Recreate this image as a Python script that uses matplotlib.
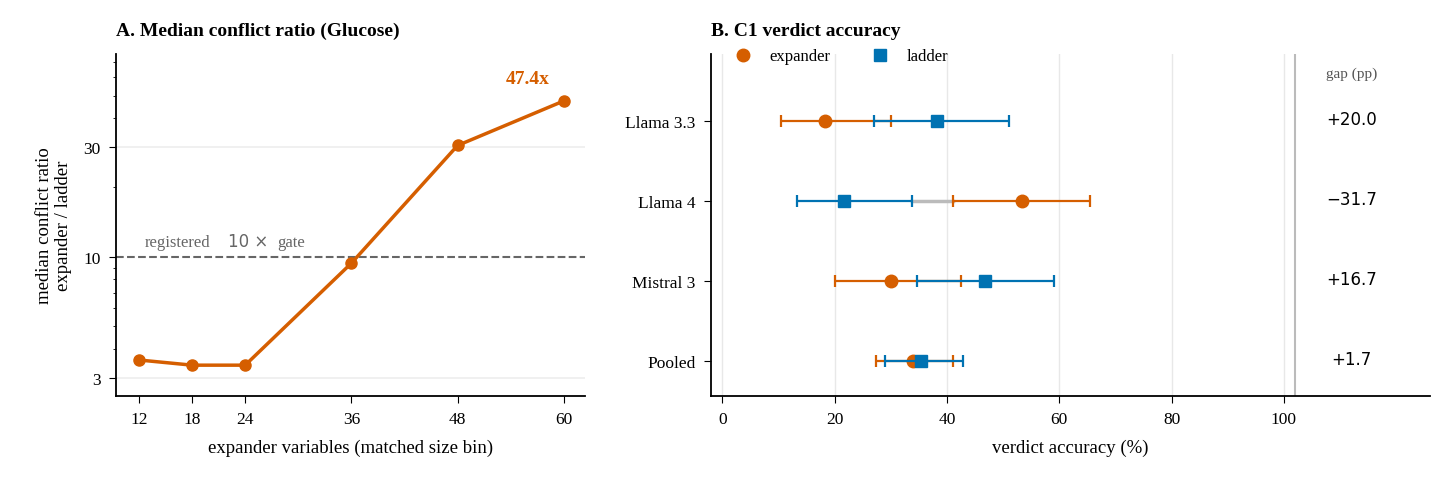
import matplotlib
matplotlib.use("Agg")
import matplotlib.pyplot as plt
from matplotlib.ticker import FixedLocator, NullFormatter, FixedFormatter

plt.rcParams['font.family'] = ['Liberation Serif', 'DejaVu Sans']
plt.rcParams['font.size'] = 12
plt.rcParams['xtick.labelsize'] = 12.5
plt.rcParams['ytick.labelsize'] = 12.5
plt.rcParams['xtick.major.size'] = 5
plt.rcParams['ytick.major.size'] = 5
plt.rcParams['xtick.major.pad'] = 6
plt.rcParams['ytick.major.pad'] = 6
plt.rcParams['axes.linewidth'] = 1.3

ORANGE = '#D55E00'
BLUE = '#0072B2'

sizes = [12, 18, 24, 36, 48, 60]
ratios = [3.58, 3.4, 3.4, 9.4, 30.4, 47.4]

models = ['Llama 3.3', 'Llama 4', 'Mistral 3', 'Pooled']
exp_acc = [18.3, 53.3, 30.0, 34.0]
exp_lo = [10.5, 41.0, 20.0, 27.4]
exp_hi = [30.0, 65.4, 42.5, 41.0]
lad_acc = [38.3, 21.7, 46.7, 35.4]
lad_lo = [27.0, 13.3, 34.6, 28.9]
lad_hi = [51.0, 33.7, 59.1, 42.9]
gaps = ['+20.0', '\u221231.7', '+16.7', '+1.7']

fig = plt.figure(figsize=(14.52, 4.89), dpi=100)
W, H = 1452, 489
axA = fig.add_axes([116/W, 1-397/H, (585-116)/W, (397-55)/H])
axB = fig.add_axes([711/W, 1-397/H, (1430-711)/W, (397-55)/H])

# Panel A
axA.set_yscale('log')
axA.set_ylim(2.5, 75.7)
axA.set_xlim(9.4, 62.4)
for v in [3, 30]:
    axA.axhline(v, color='#eeeeee', lw=1.2, zorder=0)
axA.axhline(10, color='#666666', ls='--', lw=1.5, zorder=1)
axA.text(12.6, 10.7, 'registered', color='#666666', fontsize=12, va='bottom')
axA.annotate('10 \u00d7', xy=(12.6, 10.7), xytext=(60, 0), textcoords='offset points',
             color='#666666', fontsize=12, va='bottom', family='DejaVu Sans')
axA.annotate('gate', xy=(12.6, 10.7), xytext=(96, 0), textcoords='offset points',
             color='#666666', fontsize=12, va='bottom')
axA.plot(sizes, ratios, color=ORANGE, lw=2.5, marker='o', ms=8, zorder=3)
axA.annotate(f'{ratios[-1]}x', xy=(sizes[-1], ratios[-1]), xytext=(-26, 10),
             textcoords='offset points', color=ORANGE, fontsize=14, fontweight='bold',
             ha='center', va='bottom')
axA.yaxis.set_major_locator(FixedLocator([3, 10, 30]))
axA.yaxis.set_major_formatter(FixedFormatter(['3', '10', '30']))
axA.yaxis.set_minor_formatter(NullFormatter())
axA.set_xticks(sizes)
axA.set_xlabel('expander variables (matched size bin)', fontsize=13.5, labelpad=8)
axA.set_ylabel('median conflict ratio\nexpander / ladder', fontsize=13.5, labelpad=8)
axA.set_title('A. Median conflict ratio (Glucose)', loc='left', fontweight='bold', fontsize=14, pad=14)
for s in ['top', 'right']:
    axA.spines[s].set_visible(False)

# Panel B
ys = [3, 2, 1, 0]
axB.set_xlim(-2, 126)
axB.set_ylim(-0.4375, 3.84)
for v in [0, 20, 40, 60, 80, 100]:
    axB.axvline(v, color='#e8e8e8', lw=1, zorder=0)
axB.axvline(102, color='#bbbbbb', lw=1.5, zorder=0)
for i, y in enumerate(ys):
    if lad_hi[i] < exp_lo[i]:
        axB.plot([lad_hi[i], exp_lo[i]], [y, y], color='#bbbbbb', lw=2.5, zorder=1)
    axB.errorbar(exp_acc[i], y, xerr=[[exp_acc[i]-exp_lo[i]], [exp_hi[i]-exp_acc[i]]],
                 fmt='o', color=ORANGE, ms=9, lw=1.6, capsize=4, capthick=1.6, zorder=3,
                 label='expander' if i == 0 else None)
    axB.errorbar(lad_acc[i], y, xerr=[[lad_acc[i]-lad_lo[i]], [lad_hi[i]-lad_acc[i]]],
                 fmt='s', color=BLUE, ms=9, lw=1.6, capsize=4, capthick=1.6, zorder=4,
                 label='ladder' if i == 0 else None)
    axB.text(112, y + 0.03, gaps[i], ha='center', va='center', fontsize=12, family='DejaVu Sans')
axB.text(112, 3.6, 'gap (pp)', ha='center', va='center', fontsize=11, color='#555555')
axB.set_yticks(ys)
axB.set_yticklabels(models)
axB.set_xticks([0, 20, 40, 60, 80, 100])
axB.set_xlabel('verdict accuracy (%)', fontsize=13.5, labelpad=8)
axB.set_title('B. C1 verdict accuracy', loc='left', fontweight='bold', fontsize=14, pad=14)
h, l = axB.get_legend_handles_labels()
h = [hh[0] for hh in h]
axB.legend(h, l, loc='upper left', bbox_to_anchor=(0.0, 1.06), ncol=2, frameon=False,
           fontsize=12, handletextpad=0.6, columnspacing=2.0)
for s in ['top', 'right']:
    axB.spines[s].set_visible(False)

fig.savefig('out.png', dpi=100)
